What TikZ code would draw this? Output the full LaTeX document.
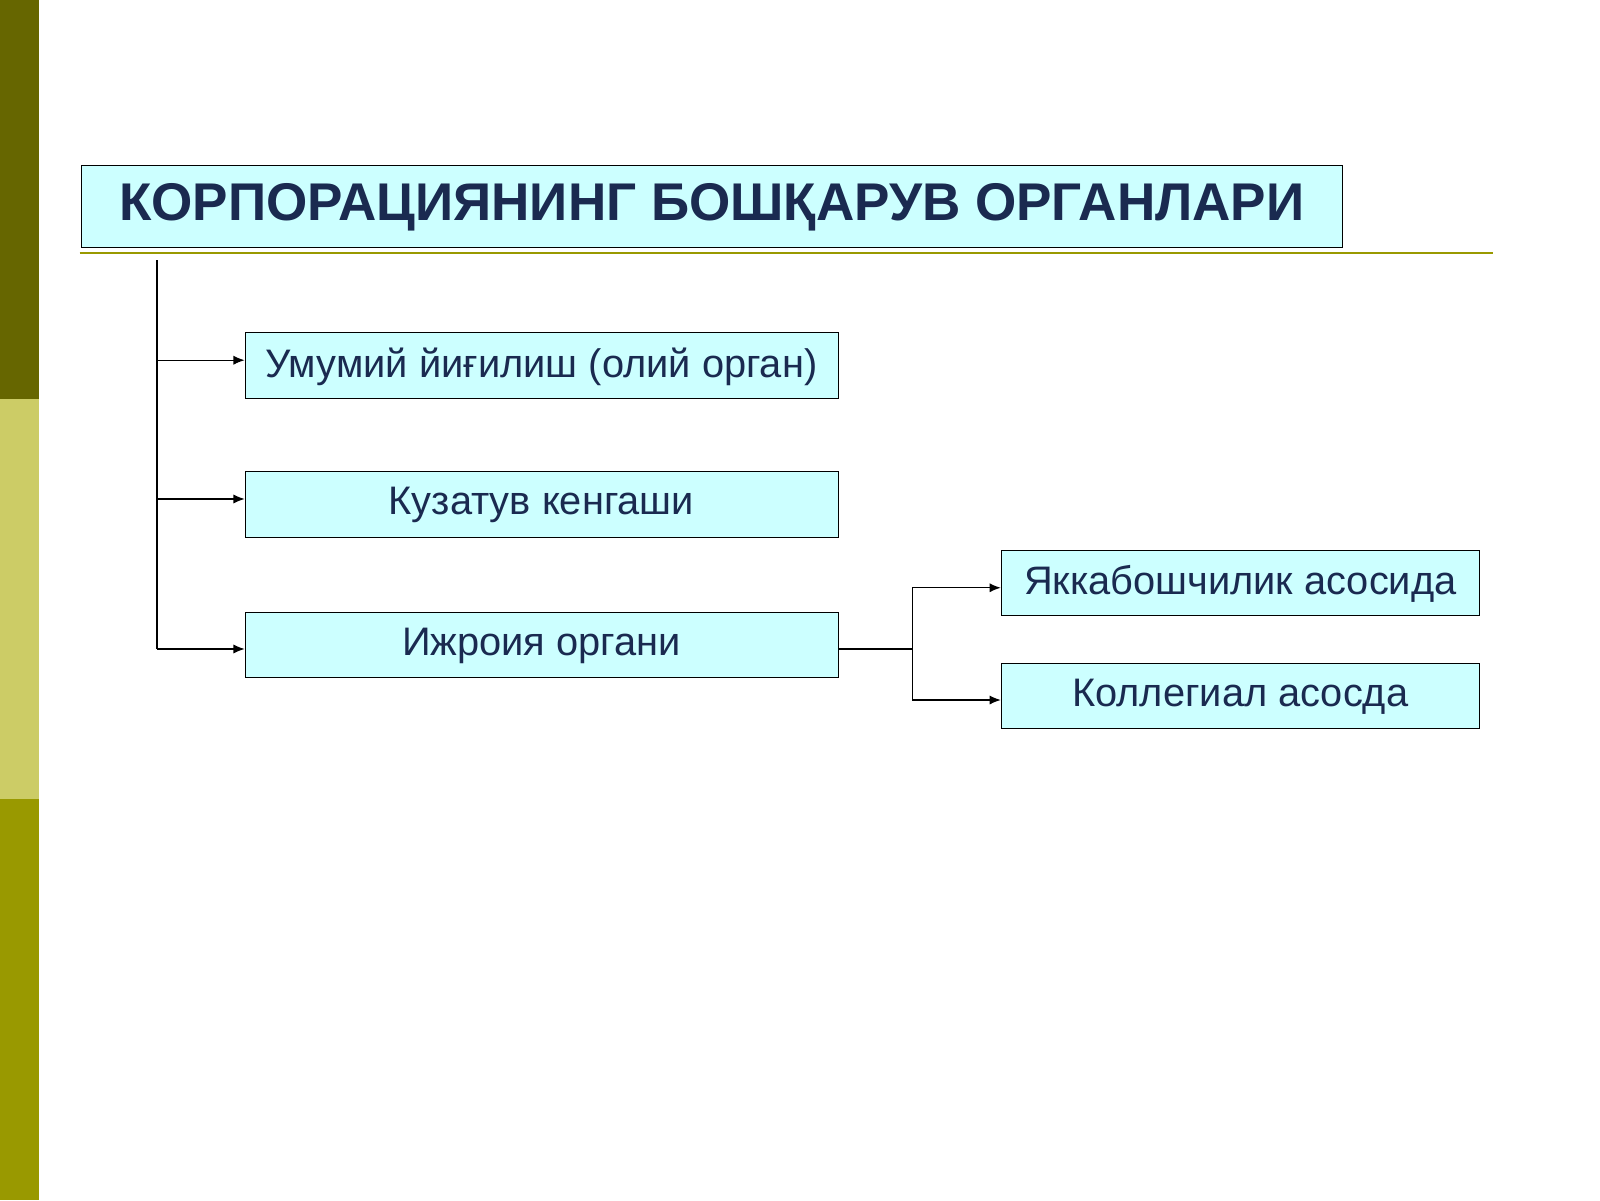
\documentclass[tikz,border=0pt]{standalone}
\usepackage{fontspec}
\setmainfont{Liberation Sans}
\usetikzlibrary{positioning,arrows.meta}
\definecolor{oliveDark}{HTML}{666600}
\definecolor{oliveLight}{HTML}{CCCC66}
\definecolor{oliveMid}{HTML}{999900}
\definecolor{boxFill}{HTML}{CCFFFF}
\definecolor{textNavy}{HTML}{1A2A50}
\tikzset{
  organ/.style={draw=black,fill=boxFill,minimum height=64pt,inner sep=0pt,font=\fontsize{39}{46}\selectfont,text=textNavy,text depth=6pt},
  link/.style={draw=black,line width=1.3pt,-{Latex[length=11pt,width=9pt]}}
}
\begin{document}
\begin{tikzpicture}[x=1pt,y=-1pt]
\useasboundingbox (0,0) rectangle (1568,1176);
\fill[white] (0,0) rectangle (1568,1176);
% Side bar
\fill[oliveDark] (0,0) rectangle (38,391);
\fill[oliveLight] (0,391) rectangle (38,783);
\fill[oliveMid] (0,783) rectangle (38,1176);
% Title
\node[organ,minimum width=1235pt,minimum height=80pt,font=\fontsize{52}{60}\selectfont\bfseries,text depth=8pt] (title) at (697.5,202) {КОРПОРАЦИЯНИНГ БОШҚАРУВ ОРГАНЛАРИ};
\draw[oliveMid,line width=2pt] (78,248) -- (1463,248);
% Organs
\node[organ,minimum width=581pt] (general) at (530.5,358) {Умумий йиғилиш (олий орган)};
\node[organ,minimum width=581pt] (council) at (530.5,494) {Кузатув кенгаши};
\node[organ,minimum width=581pt] (exec) at (530.5,632) {Ижроия органи};
\node[organ,minimum width=469pt] (sole) at (1215.5,571) {Яккабошчилик асосида};
\node[organ,minimum width=469pt] (board) at (1215.5,682) {Коллегиал асосда};
% Connectors
\coordinate (top) at (154,255);
\draw[line width=1.3pt] (top) -- (154,636);
\draw[link] (154,353) -- (general.west |- 0,353);
\draw[link] (154,489) -- (council.west |- 0,489);
\draw[link] (154,636) -- (exec.west |- 0,636);
\coordinate (fork) at (894,636);
\draw[line width=1.3pt] (exec.east |- fork) -- (fork);
\draw[line width=1.3pt] (894,576) -- (894,686);
\draw[link] (894,576) -- (sole.west |- 0,576);
\draw[link] (894,686) -- (board.west |- 0,686);
\end{tikzpicture}
\end{document}
